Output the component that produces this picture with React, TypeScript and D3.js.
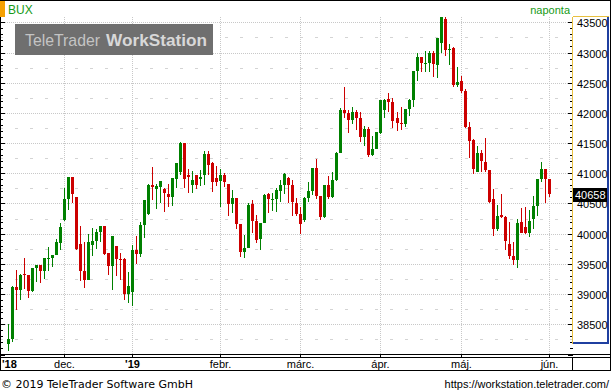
import React from "react";
import * as d3 from "d3";

// ---- Data (BUX daily candles, Nov 2018 - Jun 2019) ----
const opens = [
  38180, 38260, 39120, 39070, 39330, 39315, 39050, 39435, 39485, 39390,
  39585, 39600, 39645, 39840, 40225, 40580, 40935, 40605, 39830, 39385,
  39235, 39820, 39885, 40035, 40130, 39675, 39465, 39795, 39585, 39580,
  39000, 39035, 39730, 39665, 40145, 40320, 40810, 40745, 40780, 40740,
  40655, 40605, 40900, 41020, 41500, 40970, 40810, 40970, 40900, 40970,
  41320, 41175, 40915, 40875, 40970, 40825, 40485, 40590, 40160, 39700,
  39765, 40490, 40215, 39915, 40180, 40655, 40563, 40575, 40710, 40810,
  40920, 40810, 40505, 40325, 40225, 40590, 40710, 41090, 40625, 40280,
  40800, 40615, 40890, 41340, 42050, 42000, 41885, 42015, 41915, 41600,
  41735, 41305, 41400, 41665, 42050, 42225, 42180, 41915, 41840, 41815,
  42060, 42215, 42695, 42925, 42815, 42830, 42995, 42800, 43160, 43560,
  43040, 43080, 42460, 42535, 42370, 41760, 41550, 41025, 41330, 41190,
  41055, 40570, 40080, 40310, 40280, 39830, 39630, 39565, 40195, 40105,
  40015, 40245, 40460, 40905, 41070, 40905,
];
const highs = [
  38500, 39140, 39400, 39330, 39600, 39320, 39435, 39485, 39490, 39600,
  39775, 39650, 39905, 40180, 40755, 40935, 40940, 40605, 40130, 39865,
  39995, 40095, 40080, 40130, 40135, 39680, 39960, 39800, 39680, 39600,
  39365, 39815, 39960, 40200, 40560, 40815, 41110, 40825, 40875, 40760,
  40825, 40920, 41170, 41510, 41505, 41065, 41040, 40975, 41055, 41370,
  41370, 41180, 41120, 41065, 41010, 40830, 40725, 40595, 40165, 39980,
  40515, 40560, 40310, 40185, 40660, 40680, 40670, 40750, 40890, 41010,
  40945, 40890, 40590, 40435, 40615, 40855, 41090, 41235, 40630, 40805,
  40955, 41020, 41360, 42080, 42430, 42050, 42095, 42050, 42015, 41785,
  41765, 41620, 41685, 42215, 42225, 42325, 42240, 42020, 42095, 42070,
  42225, 42695, 43000, 42930, 43020, 43020, 43030, 43240, 43700, 43650,
  43140, 43095, 42765, 42610, 42390, 41850, 41565, 41450, 41385, 41580,
  41060, 40735, 40475, 40655, 40285, 40200, 39870, 40240, 40420, 40435,
  40395, 40625, 40905, 41185, 41075, 40910,
];
const lows = [
  38060, 38200, 38730, 38900, 39085, 38935, 39030, 39205, 39190, 39255,
  39390, 39455, 39640, 39730, 40210, 40395, 40515, 39730, 39220, 39100,
  39230, 39630, 39740, 39870, 39645, 39315, 39070, 39300, 39235, 38900,
  38855, 38805, 39500, 39620, 39930, 40315, 40560, 40415, 40515, 40365,
  40445, 40465, 40750, 40970, 40755, 40680, 40680, 40745, 40790, 40805,
  40970, 40695, 40790, 40445, 40780, 40295, 40340, 40085, 39620, 39605,
  39760, 40005, 39850, 39730, 40175, 40340, 40380, 40365, 40530, 40660,
  40505, 40295, 40295, 39995, 40200, 40525, 40640, 40570, 40225, 40265,
  40570, 40590, 40880, 41330, 41915, 41665, 41815, 41715, 41525, 41450,
  41265, 41285, 41395, 41650, 41910, 42020, 41745, 41705, 41715, 41770,
  41950, 42105, 42535, 42675, 42675, 42675, 42600, 42580, 42990, 42945,
  42795, 42435, 42425, 42335, 41750, 41255, 40990, 41020, 41025, 41025,
  40505, 39960, 40050, 40255, 39730, 39575, 39480, 39435, 40005, 39995,
  39940, 40080, 40295, 40850, 40515, 40615,
];
const closes = [
  38250, 39120, 39070, 39315, 39310, 39055, 39430, 39480, 39390, 39595,
  39600, 39645, 39860, 40115, 40575, 40935, 40660, 39745, 39385, 39235,
  39865, 39885, 40035, 40130, 39665, 39465, 39960, 39585, 39570, 39000,
  39135, 39730, 39670, 40145, 40555, 40810, 40780, 40790, 40870, 40670,
  40605, 40915, 41165, 41500, 40905, 40935, 40890, 40810, 40945, 41320,
  41135, 40860, 40860, 40970, 40860, 40485, 40590, 40160, 39700, 39765,
  40480, 40215, 39895, 40180, 40640, 40570, 40575, 40725, 40810, 40990,
  40810, 40530, 40325, 40160, 40590, 40710, 41090, 40625, 40280, 40805,
  40615, 40890, 41340, 42050, 42000, 41885, 42015, 41915, 41600, 41735,
  41305, 41400, 41680, 42210, 42210, 42180, 41870, 41840, 41815, 42070,
  42215, 42690, 42925, 42820, 42830, 42995, 42810, 43240, 43580, 43040,
  43058, 42460, 42515, 42370, 41760, 41540, 41070, 41330, 41210, 41055,
  40520, 40080, 40295, 40270, 39885, 39630, 39565, 40170, 40005, 40005,
  40205, 40460, 40905, 41070, 40905, 40658,
];

const yTicks = [38500, 39000, 39500, 40000, 40500, 41000, 41500, 42000, 42500, 43000, 43500];
const monthIdx = [14, 31, 53, 73, 93, 113, 135];
const monthLabels = ["dec.", "'19", "febr.", "márc.", "ápr.", "máj.", "jún."];
const firstLabel = "'18";
const lastPrice = 40658;

const W = 611;
const H = 392;
const PLOT_L = 1;
const PLOT_R = 572;
const PLOT_T = 17;
const PLOT_B = 354;

const x = d3.scaleLinear().domain([0, 135]).range([7.5, 548.9]);
const y = d3.scaleLinear().domain([38000, 43500]).range([354.5, 22.3]);

const GREEN = "#008000";
const RED = "#cc0000";
const AX = "Liberation Sans, Arial, sans-serif";

export default function App() {
  const cx = (i: number) => Math.round(x(i));
  const py = (v: number) => Math.round(y(v));

  const minorTicks = d3.range(38000, 43600, 100);
  const dashLevels = d3.range(38250, 43500, 500);

  return (
    <svg
      width={W}
      height={H}
      style={{ position: "absolute", left: 0, top: 0, background: "#fff" }}
      shapeRendering="crispEdges"
    >
      <defs>
        <clipPath id="plotclip">
          <rect x={PLOT_L} y={PLOT_T} width={PLOT_R - PLOT_L} height={PLOT_B - PLOT_T} />
        </clipPath>
      </defs>
      <rect x={0} y={0} width={W} height={H} fill="#fff" />

      {/* horizontal grid */}
      {yTicks.map((v) => (
        <line key={"g" + v} x1={PLOT_L} x2={PLOT_R} y1={py(v) + 0.5} y2={py(v) + 0.5}
          stroke="#c8c8c8" strokeDasharray="1,1" />
      ))}
      {dashLevels.map((v) => (
        <line key={"d" + v} x1={0} x2={PLOT_R} y1={py(v) + 0.5} y2={py(v) + 0.5}
          stroke="#d4d4d4" strokeDasharray="3,12" />
      ))}
      {/* vertical month grid */}
      {monthIdx.map((i) => (
        <line key={"v" + i} x1={cx(i) + 0.5} x2={cx(i) + 0.5} y1={PLOT_T} y2={PLOT_B}
          stroke="#c8c8c8" strokeDasharray="1,1" />
      ))}

      {/* watermark */}
      <rect x={15} y={24} width={198} height={31} fill="#6f6f6f" />
      <text x={25} y={46} fontFamily={AX} fontSize={17} fill="#c4c4c4" textLength={75} lengthAdjust="spacingAndGlyphs" shapeRendering="auto">TeleTrader</text>
      <text x={106} y={46} fontFamily={AX} fontSize={17} fontWeight="bold" fill="#d8d8d8" textLength={101} lengthAdjust="spacingAndGlyphs">WorkStation</text>

      {/* candles */}
      <g clipPath="url(#plotclip)">
        {opens.map((o, i) => {
          const c = closes[i];
          const up = c >= o;
          const col = up ? GREEN : RED;
          const top = py(Math.max(o, c));
          const bot = py(Math.min(o, c));
          const hTop = py(highs[i]);
          const lBot = py(lows[i]);
          const px = cx(i);
          return (
            <g key={i}>
              <rect x={px} y={hTop} width={1} height={Math.max(1, lBot - hTop)} fill={col} />
              <rect x={px - 1} y={top} width={3} height={Math.max(1, bot - top)} fill={col} />
            </g>
          );
        })}
      </g>

      {/* left axis ticks */}
      <line x1={0.5} x2={0.5} y1={0} y2={371} stroke="#000" />
      {minorTicks.map((v) => (
        <line key={"lt" + v} x1={0} x2={v % 500 === 0 ? 5 : 3} y1={py(v) + 0.5} y2={py(v) + 0.5} stroke="#000" />
      ))}

      {/* right axis panel */}
      {minorTicks.map((v) => (
        <line key={"rt" + v} x1={v % 500 === 0 ? 568 : 570} x2={573} y1={py(v) + 0.5} y2={py(v) + 0.5} stroke="#000" />
      ))}
      <line x1={572.5} x2={572.5} y1={16.5} y2={343.5} stroke="#e8c040" />
      <line x1={572.5} x2={609} y1={16.5} y2={16.5} stroke="#e8c040" />
      <rect x={607} y={17} width={2} height={327} fill="#1f3fa0" />
      <rect x={573} y={342} width={36} height={2} fill="#1f3fa0" />
      {yTicks.map((v) => (
        <text key={"yl" + v} x={577} y={py(v) + 4.5} fontFamily={AX} fontSize={11} fill="#000" shapeRendering="auto">
          {v}
        </text>
      ))}
      <rect x={573} y={py(lastPrice) - 6} width={34} height={14} fill="#000" />
      <text x={575} y={py(lastPrice) + 4.5} fontFamily={AX} fontSize={11} fill="#fff">{lastPrice}</text>

      {/* x axis */}
      <line x1={0} x2={W} y1={354.5} y2={354.5} stroke="#000" />
      <line x1={0} x2={W} y1={357.5} y2={357.5} stroke="#000" />
      {monthIdx.map((i) => (
        <line key={"xt" + i} x1={cx(i) + 0.5} x2={cx(i) + 0.5} y1={354} y2={357} stroke="#000" />
      ))}
      <text x={2} y={368} fontFamily={AX} fontSize={11} fontWeight="bold" fill="#000">{firstLabel}</text>
      {monthIdx.map((i, k) => (
        <text key={"xl" + i} x={cx(i) + 0.5} y={368} textAnchor="middle" fontFamily={AX} fontSize={11}
          fontWeight={monthLabels[k].startsWith("'") ? "bold" : "normal"} fill="#000">
          {monthLabels[k]}
        </text>
      ))}
      <line x1={572.5} x2={572.5} y1={357} y2={371} stroke="#000" />
      <line x1={0} x2={W} y1={370.5} y2={370.5} stroke="#000" />
      <line x1={0} x2={W} y1={0.5} y2={0.5} stroke="#000" />
      <line x1={610.5} x2={610.5} y1={0} y2={371} stroke="#000" />

      {/* header */}
      <rect x={0} y={1} width={5} height={16} fill="#f5a000" />
      <text x={8} y={14} fontFamily={AX} fontSize={12} fill="#169a16">BUX</text>
      <text x={570} y={14} textAnchor="end" fontFamily={AX} fontSize={11} fill="#169a16">naponta</text>

      {/* footer */}
      <text x={1} y={388} fontFamily="DejaVu Sans, Verdana, sans-serif" fontSize={11} fill="#000">© 2019 TeleTrader Software GmbH</text>
      <text x={609} y={388} textAnchor="end" fontFamily={AX} fontSize={11} fill="#000">https://workstation.teletrader.com/</text>
    </svg>
  );
}
